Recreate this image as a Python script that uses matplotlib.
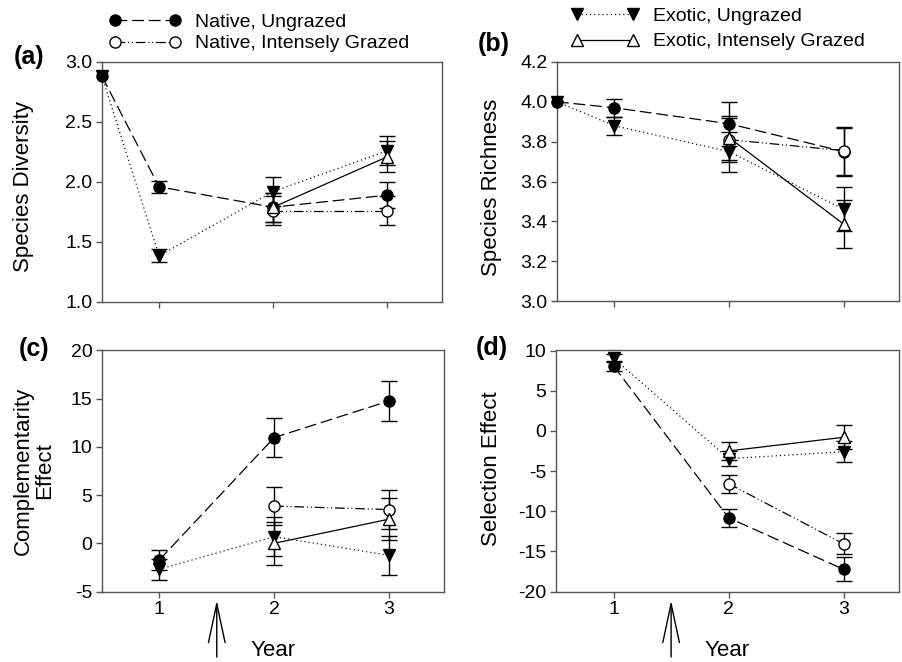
import matplotlib
matplotlib.use('Agg')
import matplotlib.pyplot as plt
from matplotlib.ticker import FormatStrFormatter, MultipleLocator
import numpy as np

plt.rcParams['font.family'] = ['Liberation Sans', 'DejaVu Sans']
plt.rcParams['lines.scale_dashes'] = False
plt.rcParams['axes.unicode_minus'] = False

# ---------------- data ----------------
x_full = [0.5, 1, 2, 3]      # initial, year 1, 2, 3 (top panels)
x_years = [1, 2, 3]          # bottom panels
x_grazed = [2, 3]

labels = ["Native, Ungrazed", "Native, Intensely Grazed",
          "Exotic, Ungrazed", "Exotic, Intensely Grazed"]

# (a) Species Diversity
div_nu = [2.88, 1.96, 1.79, 1.89]
div_nu_err = [0, 0.05, 0.12, 0.11]
div_eu = [2.88, 1.385, 1.92, 2.26]
div_eu_err = [0, 0.055, 0.12, 0.12]
div_ng = [1.76, 1.76]
div_ng_err = [0.12, 0.12]
div_eg = [1.79, 2.21]
div_eg_err = [0.12, 0.13]

# (b) Species Richness
ric_nu = [4.0, 3.97, 3.89, 3.75]
ric_nu_err = [0, 0.045, 0.11, 0.12]
ric_eu = [4.0, 3.88, 3.75, 3.46]
ric_eu_err = [0, 0.045, 0.10, 0.11]
ric_ng = [3.81, 3.755]
ric_ng_err = [0.11, 0.12]
ric_eg = [3.82, 3.385]
ric_eg_err = [0.11, 0.12]

# (c) Complementarity Effect
com_nu = [-1.72, 10.97, 14.76]
com_nu_err = [1.0, 2.0, 2.1]
com_eu = [-2.69, 0.69, -1.25]
com_eu_err = [1.1, 2.0, 2.0]
com_ng = [3.86, 3.5]
com_ng_err = [2.0, 2.05]
com_eg = [0.0, 2.5]
com_eg_err = [2.2, 2.2]

# (d) Selection Effect
sel_nu = [8.08, -10.83, -17.25]
sel_nu_err = [0.6, 1.1, 1.5]
sel_eu = [9.04, -3.46, -2.6]
sel_eu_err = [0.5, 0.9, 1.3]
sel_ng = [-6.58, -14.08]
sel_ng_err = [1.1, 1.3]
sel_eg = [-2.5, -0.8]
sel_eg_err = [1.1, 1.5]

# ---------------- styles ----------------
STY = {
    'nu': dict(marker='o', mfc='black', dashes=(8.5, 3.5)),
    'ng': dict(marker='o', mfc='white', dashes=(7, 2, 0.8, 2, 0.8, 2)),
    'eu': dict(marker='v', mfc='black', dashes=(0.8, 2.2)),
    'eg': dict(marker='^', mfc='white', dashes=None),
}
MS = 8
LW = 0.9
SPINE = '#555555'

W, H = 902, 662
fig = plt.figure(figsize=(W / 100, H / 100), dpi=100)


def ax_at(l, t, r, b):
    return fig.add_axes([l / W, 1 - b / H, (r - l) / W, (b - t) / H])


def series(ax, x, y, e, key):
    s = STY[key]
    kw = dict(color='black', lw=LW, marker=s['marker'], ms=MS, mfc=s['mfc'],
              mec='black', mew=1.0, clip_on=False, zorder=3)
    if s['dashes'] is None:
        ln, = ax.plot(x, y, ls='-', **kw)
    else:
        ln, = ax.plot(x, y, ls='--', dashes=s['dashes'], **kw)
    x = np.asarray(x, float); y = np.asarray(y, float); e = np.asarray(e, float)
    m = e > 0
    ax.errorbar(x[m], y[m], yerr=e[m], fmt='none', ecolor='black',
                elinewidth=1.0, capsize=5.5, capthick=1.0, zorder=2)
    return ln


def style_axes(ax, ylim, ystep, fmt, xlabels):
    ax.set_xlim(0.5, 3.48)
    ax.set_ylim(*ylim)
    ax.yaxis.set_major_locator(MultipleLocator(ystep))
    if fmt:
        ax.yaxis.set_major_formatter(FormatStrFormatter(fmt))
    ax.set_xticks([1, 2, 3])
    if not xlabels:
        ax.set_xticklabels([])
    for sp in ax.spines.values():
        sp.set_color(SPINE)
        sp.set_linewidth(1.0)
    ax.tick_params(direction='out', length=4, width=1.0, color=SPINE,
                   labelsize=14, pad=3, top=False, right=False)


# (a)
axa = ax_at(102, 62, 442, 302)
h_nu = series(axa, x_full, div_nu, div_nu_err, 'nu')
h_eu = series(axa, x_full, div_eu, div_eu_err, 'eu')
h_ng = series(axa, x_grazed, div_ng, div_ng_err, 'ng')
h_eg = series(axa, x_grazed, div_eg, div_eg_err, 'eg')
style_axes(axa, (1.0, 3.0), 0.5, '%.1f', False)

# (b)
axb = ax_at(557, 62, 899, 301)
series(axb, x_full, ric_nu, ric_nu_err, 'nu')
series(axb, x_full, ric_eu, ric_eu_err, 'eu')
series(axb, x_grazed, ric_ng, ric_ng_err, 'ng')
series(axb, x_grazed, ric_eg, ric_eg_err, 'eg')
style_axes(axb, (3.0, 4.2), 0.2, '%.1f', False)

# (c)
axc = ax_at(102, 350.5, 444, 591.5)
series(axc, x_years, com_nu, com_nu_err, 'nu')
series(axc, x_years, com_eu, com_eu_err, 'eu')
series(axc, x_grazed, com_ng, com_ng_err, 'ng')
series(axc, x_grazed, com_eg, com_eg_err, 'eg')
style_axes(axc, (-5, 20), 5, None, True)

# (d)
axd = ax_at(556, 350.5, 899, 591.5)
series(axd, x_years, sel_nu, sel_nu_err, 'nu')
series(axd, x_years, sel_eu, sel_eu_err, 'eu')
series(axd, x_grazed, sel_ng, sel_ng_err, 'ng')
series(axd, x_grazed, sel_eg, sel_eg_err, 'eg')
style_axes(axd, (-20, 10), 5, None, True)

for ax in (axc, axd):
    ax.set_xlabel('Year', fontsize=16, labelpad=16)
    ax.annotate('', xy=(1.5, -0.037), xycoords=('data', 'axes fraction'),
                xytext=(1.5, -0.272), textcoords=('data', 'axes fraction'),
                arrowprops=dict(arrowstyle='->,head_length=2.8,head_width=0.6',
                                lw=1.0, color='black', shrinkA=0, shrinkB=0,
                                mutation_scale=10),
                annotation_clip=False)

# y labels
fig.text(24 / W, 1 - 187 / H, 'Species Diversity', rotation=90, ha='center',
         va='center', fontsize=16)
fig.text(492 / W, 1 - 187 / H, 'Species Richness', rotation=90, ha='center',
         va='center', fontsize=16)
fig.text(34 / W, 1 - 471 / H, 'Complementarity\nEffect', rotation=90,
         ha='center', va='center', fontsize=16, multialignment='center',
         linespacing=1.0)
fig.text(492 / W, 1 - 469 / H, 'Selection Effect', rotation=90, ha='center',
         va='center', fontsize=16)

# panel letters
for txt, px, py in (('(a)', 14, 57), ('(b)', 478, 44), ('(c)', 19, 349), ('(d)', 476, 348)):
    fig.text(px / W, 1 - py / H, txt, ha='left', va='center', fontsize=18,
             fontweight='bold')

# legends
leg1 = fig.legend(handles=[h_nu, h_ng], labels=[labels[0], labels[1]],
                  loc='upper left', bbox_to_anchor=(109 / W, 1 - 13 / H),
                  frameon=False, fontsize=14, handlelength=3.7,
                  handletextpad=0.73, borderpad=0, borderaxespad=0,
                  labelspacing=0.22, numpoints=2)
leg2 = fig.legend(handles=[h_eu, h_eg], labels=[labels[2], labels[3]],
                  loc='upper left', bbox_to_anchor=(571 / W, 1 - 7 / H),
                  frameon=False, fontsize=14, handlelength=3.5,
                  handletextpad=0.73, borderpad=0, borderaxespad=0,
                  labelspacing=0.42, numpoints=2)

fig.savefig('out.png', dpi=100)
